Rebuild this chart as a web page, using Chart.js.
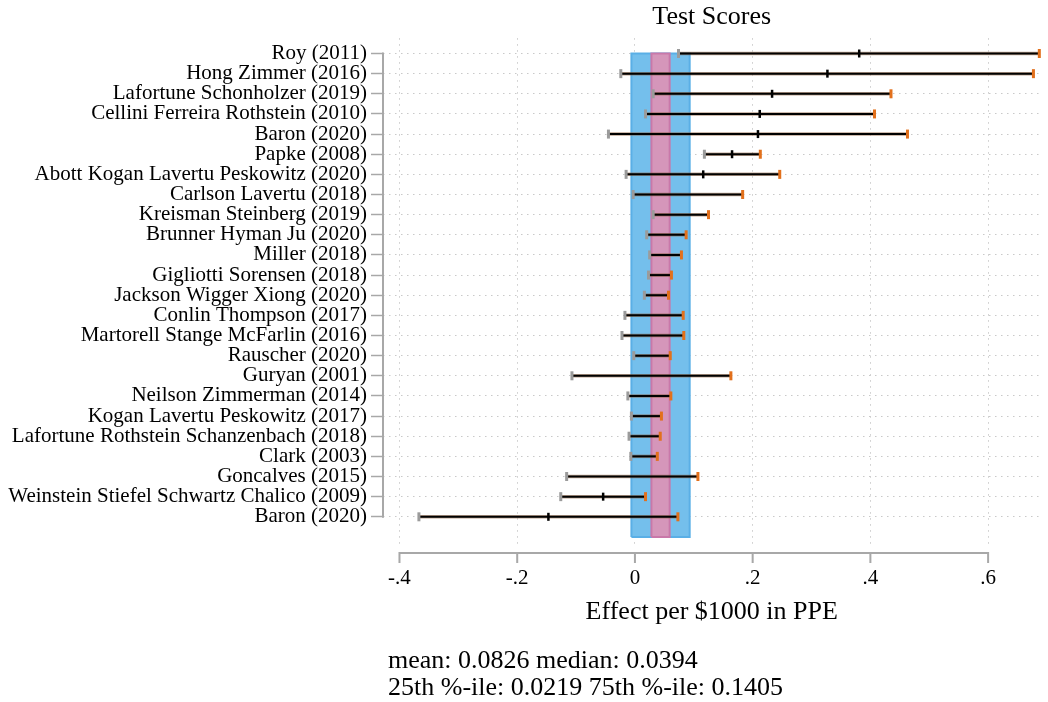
<!DOCTYPE html>
<html lang="en">
<head>
    <meta charset="UTF-8">
    <title>Test Scores</title>
    <script src="https://cdn.jsdelivr.net/npm/chart.js@4"></script>
    <style>
        body { margin: 0; background: #fff; }
        .wrap { position: relative; width: 1048px; height: 702px; }
        .note {
            position: absolute; left: 388px; top: 646px;
            font-family: 'Liberation Serif', 'Times New Roman', serif;
            font-size: 26px; line-height: 27px; color: #000;
        }
    </style>
</head>
<body>
    <div class="wrap">
        <canvas id="forest" width="1048" height="702"></canvas>
        <div class="note">
            <div>mean: 0.0826 median: 0.0394</div>
            <div>25th %-ile: 0.0219 75th %-ile: 0.1405</div>
        </div>
    </div>

    <script>
        // studies, top to bottom
        const studies = [
            'Roy (2011)', 'Hong Zimmer (2016)', 'Lafortune Schonholzer (2019)',
            'Cellini Ferreira Rothstein (2010)', 'Baron (2020)', 'Papke (2008)',
            'Abott Kogan Lavertu Peskowitz (2020)', 'Carlson Lavertu (2018)',
            'Kreisman Steinberg (2019)', 'Brunner Hyman Ju (2020)', 'Miller (2018)',
            'Gigliotti Sorensen (2018)', 'Jackson Wigger Xiong (2020)',
            'Conlin Thompson (2017)', 'Martorell Stange McFarlin (2016)',
            'Rauscher (2020)', 'Guryan (2001)', 'Neilson Zimmerman (2014)',
            'Kogan Lavertu Peskowitz (2017)', 'Lafortune Rothstein Schanzenbach (2018)',
            'Clark (2003)', 'Goncalves (2015)', 'Weinstein Stiefel Schwartz Chalico (2009)',
            'Baron (2020)'
        ];
        const ciLow = [0.074, -0.024, 0.031, 0.018, -0.045, 0.118, -0.015, -0.003,
            0.031, 0.020, 0.025, 0.023, 0.016, -0.017, -0.022, -0.002, -0.107,
            -0.012, -0.006, -0.010, -0.007, -0.116, -0.126, -0.367];
        const ciHigh = [0.687, 0.677, 0.435, 0.407, 0.463, 0.213, 0.246, 0.183,
            0.125, 0.087, 0.079, 0.062, 0.057, 0.082, 0.083, 0.060, 0.163,
            0.061, 0.045, 0.043, 0.038, 0.107, 0.018, 0.073];
        // estimates hidden under the shaded bands are left out
        const estimate = [0.381, 0.327, 0.233, 0.212, 0.209, 0.165, 0.116, null,
            null, null, null, null, null, null, null, null, null,
            null, null, null, null, null, -0.054, -0.147];

        const outerBand = [-0.006, 0.093];
        const innerBand = [0.028, 0.059];

        const xTicks = [-0.4, -0.2, 0, 0.2, 0.4, 0.6];
        const xTickLabels = ['-.4', '-.2', '0', '.2', '.4', '.6'];

        const n = studies.length;
        const rows = studies.map((s, i) => n - i);
        const serif = "'Liberation Serif', 'Times New Roman', serif";

        function bandRect(band) {
            return [
                { x: band[0], y: 0 }, { x: band[0], y: n },
                { x: band[1], y: n }, { x: band[1], y: 0 },
                { x: band[0], y: 0 }
            ];
        }

        const datasets = [];

        datasets.push({
            data: bandRect(outerBand), fill: 'shape', order: 4,
            backgroundColor: '#74bfec', borderColor: '#5aafe6', borderWidth: 2,
            pointRadius: 0
        });
        datasets.push({
            data: bandRect(innerBand), fill: 'shape', order: 3,
            backgroundColor: '#d596ba', borderColor: '#c978a9', borderWidth: 2,
            pointRadius: 0
        });

        studies.forEach((s, i) => {
            const seg = [{ x: ciLow[i], y: rows[i] }, { x: ciHigh[i], y: rows[i] }];
            // brownish rim under the interval line
            datasets.push({
                data: seg, order: 2, clip: false,
                borderColor: 'rgba(135,90,55,0.55)', borderWidth: 3.5, pointRadius: 0
            });
            datasets.push({
                data: seg, order: 1, clip: false,
                borderColor: '#000', borderWidth: 2,
                pointStyle: 'line', pointRotation: 90, pointRadius: 4.5,
                pointBorderWidth: 3, pointBorderColor: ['#9b9b9b', '#e2701c']
            });
        });

        datasets.push({
            data: estimate.map((v, i) => v === null ? null : { x: v, y: rows[i] }).filter(p => p),
            order: 0, showLine: false, clip: false,
            pointStyle: 'line', pointRotation: 90, pointRadius: 4,
            pointBorderWidth: 2.5, pointBorderColor: '#000'
        });

        // axis lines sit apart from the plot region, like Stata draws them
        const axisLines = {
            id: 'axisLines',
            afterDraw(chart) {
                const { ctx, chartArea } = chart;
                const x = chart.scales.x, y = chart.scales.y;
                ctx.save();
                ctx.strokeStyle = '#a8a8a8';
                ctx.lineWidth = 2;
                ctx.lineCap = 'square';
                ctx.beginPath();
                ctx.moveTo(chartArea.left, y.getPixelForValue(rows[0]));
                ctx.lineTo(chartArea.left, y.getPixelForValue(rows[n - 1]));
                const base = chartArea.bottom + 8;
                ctx.moveTo(x.getPixelForValue(xTicks[0]), base);
                ctx.lineTo(x.getPixelForValue(xTicks[xTicks.length - 1]), base);
                xTicks.forEach(v => {
                    const px = x.getPixelForValue(v);
                    ctx.moveTo(px, base);
                    ctx.lineTo(px, base + 9);
                });
                ctx.stroke();
                ctx.restore();
            }
        };

        new Chart(document.getElementById('forest'), {
            type: 'line',
            data: { datasets },
            plugins: [axisLines],
            options: {
                responsive: false,
                animation: false,
                events: [],
                layout: { padding: { top: 0, right: 5, bottom: 70, left: 0 } },
                plugins: { legend: { display: false }, tooltip: { enabled: false } },
                scales: {
                    x: {
                        type: 'linear', position: 'bottom',
                        min: -0.428, max: 0.689,
                        afterBuildTicks: s => { s.ticks = xTicks.map(v => ({ value: v })); },
                        afterFit: s => { s.height = 87; },
                        ticks: {
                            padding: 21, color: '#000',
                            font: { family: serif, size: 21 },
                            callback: (v, i) => xTickLabels[i]
                        },
                        grid: { color: '#c9c9c9', lineWidth: 1, drawTicks: false },
                        border: { display: false, dash: [1.5, 4.5] },
                        title: {
                            display: true, text: 'Effect per $1000 in PPE', color: '#000',
                            font: { family: serif, size: 26, lineHeight: 1.2 },
                            padding: { top: 6, bottom: 4 }
                        }
                    },
                    xTop: {
                        type: 'linear', position: 'top',
                        ticks: { display: false },
                        grid: { display: false, drawTicks: false },
                        border: { display: false },
                        title: {
                            display: true, text: 'Test Scores', color: '#000',
                            font: { family: serif, size: 26, lineHeight: 1.2 },
                            padding: { top: 2, bottom: 5 }
                        }
                    },
                    y: {
                        type: 'linear', position: 'left',
                        min: -0.4, max: 24.76,
                        afterBuildTicks: s => { s.ticks = rows.map(r => ({ value: r })); },
                        afterFit: s => { s.width = 383; },
                        ticks: {
                            autoSkip: false, padding: 4, color: '#000',
                            font: { family: serif, size: 21 },
                            callback: v => studies[n - v]
                        },
                        grid: {
                            color: '#c9c9c9', lineWidth: 1, tickLength: 12,
                            tickColor: '#a8a8a8', tickWidth: 1.5
                        },
                        border: { display: false, dash: [1.5, 4.5] }
                    }
                }
            }
        });
    </script>
</body>
</html>
